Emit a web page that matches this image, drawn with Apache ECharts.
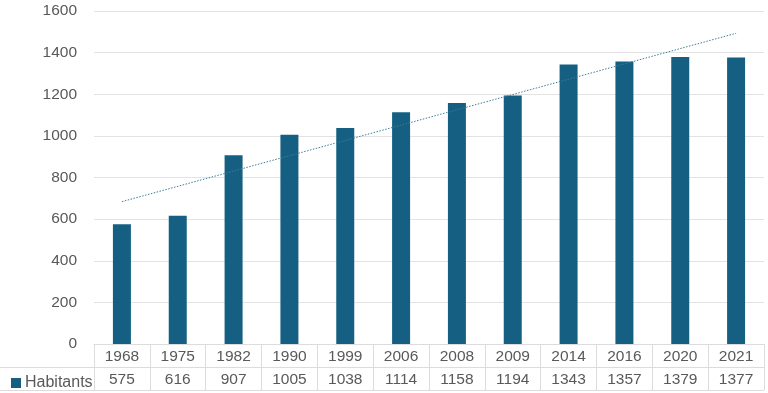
<!DOCTYPE html>
<html>
<head>
<meta charset="utf-8">
<script src="https://cdn.jsdelivr.net/npm/echarts@6/dist/echarts.min.js"></script>
<style>
html,body{margin:0;padding:0;background:#fff;}
#chart{width:768px;height:393px;}
</style>
</head>
<body>
<div id="chart"></div>
<script>
const years = ['1968','1975','1982','1990','1999','2006','2008','2009','2014','2016','2020','2021'];
const habitants = [575, 616, 907, 1005, 1038, 1114, 1158, 1194, 1343, 1357, 1379, 1377];
const seriesName = 'Habitants';
// linear trendline endpoints (first and last category)
const trendStart = 684;
const trendEnd = 1493;
const yTicks = [0, 200, 400, 600, 800, 1000, 1200, 1400, 1600];

const trendData = years.map((y, i) => i === 0 ? trendStart : (i === years.length - 1 ? trendEnd : null));

const textColor = '#595959';
const lineColor = '#dcdcdc';
const barColor = '#156082';
const font = 'Liberation Sans';
const fs = 15.5;

const chart = echarts.init(document.getElementById('chart'));
chart.setOption({
  animation: false,
  textStyle: { fontFamily: font },
  grid: { left: 94, right: 4, top: 11, bottom: 49, containLabel: false },
  legend: {
    show: true,
    data: [{ name: seriesName, icon: 'rect' }],
    left: 6, top: 370,
    itemWidth: 10, itemHeight: 10, itemGap: 4,
    textStyle: { fontFamily: font, fontSize: 16, color: textColor, padding: [0,0,0,-1] },
    selectedMode: false
  },
  xAxis: [
    {
      type: 'category',
      data: years,
      position: 'bottom',
      axisLine: { show: true, lineStyle: { color: lineColor, width: 1 } },
      axisTick: { show: true, interval: 0, length: 46, alignWithLabel: false, lineStyle: { color: lineColor } },
      axisLabel: { interval: 0, margin: 5, fontSize: fs, color: textColor, fontFamily: font }
    },
    {
      type: 'category',
      data: habitants.map(String),
      position: 'bottom',
      offset: 23,
      axisLine: { show: false },
      axisTick: { show: false },
      axisLabel: { interval: 0, margin: 5, fontSize: fs, color: textColor, fontFamily: font }
    }
  ],
  yAxis: {
    type: 'value',
    min: yTicks[0], max: yTicks[yTicks.length - 1], interval: 200,
    axisLine: { show: false },
    axisTick: { show: false },
    splitLine: { show: true, lineStyle: { color: '#e3e3e3', width: 1 } },
    axisLabel: { fontSize: fs, color: textColor, margin: 17, fontFamily: font, formatter: v => String(v) }
  },
  graphic: [
    { type: 'line', shape: { x1: 0, y1: 367.5, x2: 764, y2: 367.5 }, style: { stroke: lineColor, lineWidth: 1 }, silent: true },
    { type: 'line', shape: { x1: 0, y1: 390.5, x2: 764, y2: 390.5 }, style: { stroke: lineColor, lineWidth: 1 }, silent: true }
  ],
  series: [
    {
      name: seriesName,
      type: 'bar',
      data: habitants,
      barWidth: 18,
      itemStyle: { color: barColor }
    },
    {
      name: 'trend',
      type: 'line',
      data: trendData,
      connectNulls: true,
      symbol: 'none',
      lineStyle: { color: '#3f7a96', width: 1, type: [1.5, 1.5] },
      z: 5
    }
  ]
});
</script>
</body>
</html>
